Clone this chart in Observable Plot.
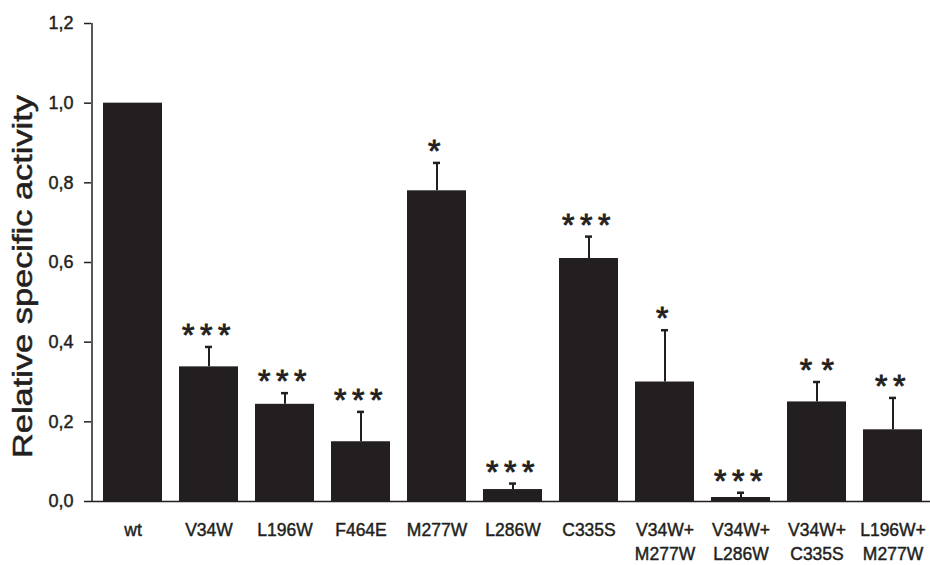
<!DOCTYPE html>
<html><head><meta charset="utf-8">
<script src="https://cdn.jsdelivr.net/npm/d3@7"></script>
<script src="https://cdn.jsdelivr.net/npm/@observablehq/plot@0.6"></script>
<style>
body{margin:0;background:#fff}
#chart svg{display:block;font-family:"Liberation Sans",Arial,sans-serif}
</style>
</head><body><div id="chart"></div>
<script>
const mutants = ["wt","V34W","L196W","F464E","M277W","L286W","C335S","V34W+\nM277W","V34W+\nL286W","V34W+\nC335S","L196W+\nM277W"];
const activity = [1.0,0.338,0.244,0.15,0.78,0.03,0.61,0.30,0.01,0.25,0.18];
const errorUp = [0,0.05,0.028,0.075,0.07,0.015,0.055,0.13,0.012,0.05,0.08];
const significance = ["","***","***","***","*","***","***","*","***","* *","**"];
const yTicks = [0,0.2,0.4,0.6,0.8,1.0,1.2];
const yTitle = "Relative specific activity";

const ink = "#231f20";
const data = mutants.map((m,i)=>({name:m, value:activity[i], err:errorUp[i], sig:significance[i], top:activity[i]+errorUp[i]}));
const withErr = data.filter(d=>d.err>0);

const chart = Plot.plot({
  width: 930,
  height: 565,
  marginTop: 23,
  marginBottom: 64,
  marginLeft: 91,
  marginRight: 0,
  style: {fontFamily: '"Liberation Sans", Arial, sans-serif', color: ink, background: "#fff"},
  x: {domain: mutants, range: [91, 935], paddingInner: 0.22, paddingOuter: 0.11, label: null, axis: null},
  y: {domain: [0, 1.2], label: null, axis: null},
  marks: [
    Plot.axisY({ticks: yTicks, tickFormat: d => d.toFixed(1).replace(".", ","), tickSize: 7, tickPadding: 11, fontSize: 18, stroke: ink, strokeWidth: 1.5, fill: ink, label: null}),
    Plot.axisX({tickSize: 0, tickPadding: 18, fontSize: 17.5, lineHeight: 1.35, fill: ink, label: null}),
    Plot.barY(data, {x: "name", y: "value", fill: ink}),
    Plot.ruleY([0], {stroke: ink, strokeWidth: 1.5}),
    Plot.ruleX(withErr, {x: "name", y1: "value", y2: "top", stroke: ink, strokeWidth: 2}),
    Plot.tickY(withErr, {x: "name", y: "top", insetLeft: 26, insetRight: 26, stroke: ink, strokeWidth: 2.5}),
    Plot.text(data, {x: "name", y: "top", text: "sig", fontSize: 32, dy: -1, lineAnchor: "bottom", fill: ink}),
    Plot.text([yTitle], {frameAnchor: "left", textAnchor: "middle", lineAnchor: "middle", rotate: -90, dx: -68, dy: 14, fontSize: 27, fill: ink})
  ]
});
// y axis line
d3.select(chart).append("line")
  .attr("x1", 92).attr("x2", 92).attr("y1", 23).attr("y2", 501)
  .attr("stroke", ink).attr("stroke-width", 1.5);
const allText = d3.select(chart).selectAll("text");
allText.style("stroke", ink).style("stroke-width", "0.45px");
allText.filter(function(){return this.textContent.includes("*");})
  .attr("letter-spacing", function(){return this.textContent.includes(" ") ? "0.3px" : "5.5px";})
  .style("stroke-width", "0.9px");
allText.filter(function(){return this.textContent === yTitle;})
  .attr("textLength", 363).attr("lengthAdjust", "spacingAndGlyphs").style("stroke-width", "0.5px");
document.getElementById("chart").appendChild(chart);
</script>
</body></html>
